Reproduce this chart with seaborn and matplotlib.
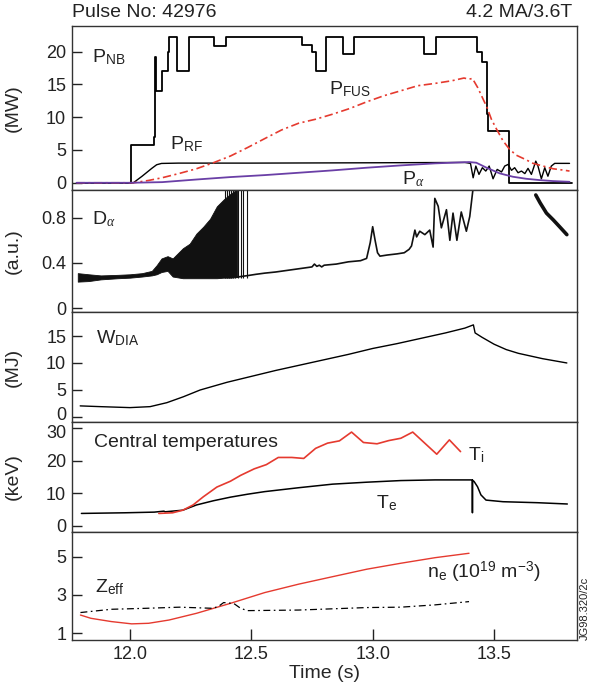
import matplotlib
matplotlib.use('Agg')
import matplotlib.pyplot as plt
import matplotlib.transforms as mtransforms
import seaborn as sns

#%% Heating powers (MW)
nb_t = [11.78, 12.003, 12.098, 12.104, 12.107, 12.131, 12.156, 12.16, 12.192, 12.243, 12.348,
        12.396, 12.709, 12.751, 12.765, 12.807, 12.878, 12.922, 13.212, 13.261, 13.43, 13.452,
        13.469, 13.476, 13.561, 13.82]
nb_mw = [0, 5.7, 7.0, 19.2, 14.0, 17.0, 20.0, 22.3, 17.0, 22.3, 20.8,
         22.3, 21.0, 20.0, 17.0, 22.3, 19.7, 22.3, 19.7, 22.3, 19.9, 18.4,
         10.5, 7.9, 0, 0]

rf_t = [11.78, 12.0, 12.014, 12.05, 12.09, 12.11, 12.13, 12.2, 12.5, 13.0, 13.38,
        13.403, 13.414, 13.425, 13.438, 13.452, 13.466, 13.48, 13.496, 13.513, 13.531,
        13.544, 13.558, 13.572, 13.585, 13.599, 13.613, 13.627, 13.64, 13.654, 13.672,
        13.681, 13.695, 13.709, 13.722, 13.736, 13.75, 13.811]
rf_mw = [0, 0, 0, 1.0, 2.2, 2.75, 2.95, 3.0, 3.0, 3.05, 3.1,
         2.96, 0.76, 2.55, 1.28, 2.3, 1.79, 2.55, 0.61, 2.04, 1.65,
         2.55, 2.8, 1.9, 2.3, 1.53, 1.79, 1.4, 2.2, 1.28, 3.3,
         2.55, 0.61, 2.3, 1.0, 2.55, 2.96, 2.96]

fus_t = [11.78, 12.014, 12.077, 12.133, 12.204, 12.274, 12.344, 12.414, 12.484, 12.555,
         12.625, 12.695, 12.765, 12.835, 12.906, 12.976, 13.046, 13.116, 13.186, 13.257,
         13.327, 13.376, 13.397, 13.411, 13.433, 13.455, 13.471, 13.489, 13.51, 13.537,
         13.564, 13.592, 13.627, 13.661, 13.702, 13.743, 13.784, 13.811]
fus_mw = [0, 0, 0.36, 0.77, 1.43, 2.14, 3.06, 4.08, 5.36, 6.73,
          8.06, 9.08, 9.69, 10.46, 11.33, 12.35, 13.27, 14.03, 14.8, 15.15,
          15.56, 15.97, 15.8, 15.9, 14.5, 12.75, 11.5, 9.7, 8.2, 6.4,
          5.1, 4.2, 3.6, 2.96, 2.55, 2.14, 1.94, 1.79]

alpha_t = [11.78, 12.0, 12.133, 12.274, 12.414, 12.555, 12.695, 12.835, 12.976, 13.116,
           13.257, 13.397, 13.427, 13.469, 13.524, 13.578, 13.633, 13.688, 13.743, 13.811]
alpha_mw = [0, 0, 0.1, 0.5, 0.87, 1.17, 1.53, 1.89, 2.3, 2.65,
            2.96, 3.16, 3.06, 2.3, 1.43, 0.92, 0.61, 0.41, 0.26, 0.15]

#%% D-alpha (a.u.)
da_band_t = [11.785, 11.83, 11.88, 11.95, 12.0, 12.05, 12.09, 12.11, 12.13, 12.155, 12.176,
             12.218, 12.246, 12.274, 12.302, 12.33, 12.358, 12.386, 12.414, 12.442]
da_band_lo = [0.235, 0.24, 0.255, 0.265, 0.27, 0.28, 0.29, 0.30, 0.32, 0.33, 0.28,
              0.265, 0.265, 0.265, 0.265, 0.265, 0.265, 0.27, 0.27, 0.275]
da_band_hi = [0.31, 0.30, 0.29, 0.295, 0.30, 0.31, 0.33, 0.38, 0.44, 0.46, 0.44,
              0.53, 0.57, 0.66, 0.72, 0.79, 0.90, 0.96, 1.01, 1.05]
da_spike_t = [12.392, 12.401, 12.409, 12.418, 12.426, 12.434, 12.445, 12.456, 12.466, 12.481]

da_t = [12.44, 12.49, 12.52, 12.555, 12.6, 12.65, 12.7, 12.75, 12.76, 12.77, 12.78, 12.79,
        12.8, 12.85, 12.9, 12.95, 12.975, 12.99, 13.0, 13.01, 13.02, 13.03, 13.06, 13.1,
        13.13, 13.15, 13.16, 13.174, 13.181, 13.194, 13.215, 13.235, 13.249, 13.256, 13.27,
        13.283, 13.304, 13.318, 13.331, 13.347, 13.365, 13.386, 13.4, 13.411, 13.416]
da_au = [0.275, 0.29, 0.30, 0.31, 0.32, 0.335, 0.35, 0.365, 0.39, 0.37, 0.38, 0.365,
         0.38, 0.39, 0.41, 0.42, 0.44, 0.58, 0.72, 0.6, 0.49, 0.46, 0.47, 0.48,
         0.49, 0.52, 0.55, 0.69, 0.63, 0.68, 0.65, 0.69, 0.54, 0.97, 0.90,
         0.71, 0.87, 0.60, 0.84, 0.60, 0.85, 0.68, 0.81, 1.01, 1.1]
da_late_t = [13.672, 13.69, 13.716, 13.744, 13.77, 13.80]
da_late_au = [1.0, 0.93, 0.84, 0.78, 0.72, 0.65]

#%% Diamagnetic energy (MJ)
w_t = [11.795, 11.878, 12.0, 12.083, 12.152, 12.22, 12.289, 12.4, 12.5, 12.6, 12.74, 12.8,
       12.9, 13.0, 13.1, 13.2, 13.24, 13.3, 13.38, 13.415, 13.422, 13.45, 13.5, 13.55,
       13.6, 13.7, 13.8]
w_mj = [2.0, 1.86, 1.68, 1.86, 2.6, 3.7, 4.96, 6.4, 7.5, 8.6, 10.0, 10.6,
        11.6, 12.7, 13.6, 14.6, 15.0, 15.6, 16.5, 17.1, 15.6, 14.8, 13.5, 12.5,
        11.8, 10.8, 10.0]

#%% Central temperatures (keV)
ti_t = [12.119, 12.176, 12.218, 12.26, 12.302, 12.358, 12.414, 12.456, 12.512, 12.562,
        12.611, 12.667, 12.716, 12.765, 12.814, 12.863, 12.913, 12.962, 13.018, 13.067,
        13.116, 13.165, 13.264, 13.316, 13.362]
ti_kev = [3.8, 4.0, 4.8, 6.4, 8.9, 11.9, 13.7, 15.5, 17.5, 18.8,
          21.0, 21.0, 20.7, 23.8, 25.4, 26.1, 28.8, 25.6, 25.2, 26.2,
          26.9, 28.8, 22.0, 26.4, 22.8]

te_t = [11.80, 11.979, 12.1, 12.14, 12.145, 12.218, 12.274, 12.344, 12.414, 12.484, 12.555,
        12.695, 12.835, 12.976, 13.116, 13.257, 13.41, 13.411, 13.412, 13.418, 13.432,
        13.446, 13.467, 13.537, 13.678, 13.802]
te_kev = [3.8, 4.0, 4.2, 4.5, 4.3, 4.8, 6.4, 7.7, 8.8, 9.7, 10.5,
          11.7, 12.8, 13.4, 13.9, 14.1, 14.1, 4.0, 14.0, 13.6, 12.0,
          9.5, 7.9, 7.4, 7.1, 6.7]

#%% Density and Zeff
ne_t = [11.796, 11.839, 11.923, 12.007, 12.077, 12.161, 12.274, 12.414, 12.555, 12.695,
        12.835, 12.976, 13.116, 13.257, 13.397]
ne_val = [1.95, 1.78, 1.61, 1.49, 1.52, 1.69, 2.04, 2.56, 3.12, 3.56,
          3.95, 4.34, 4.65, 4.94, 5.17]

zeff_t = [11.796, 11.923, 12.063, 12.204, 12.344, 12.37, 12.386, 12.428, 12.456, 12.484,
          12.695, 12.976, 13.116, 13.257, 13.397]
zeff_val = [2.08, 2.25, 2.3, 2.36, 2.3, 2.45, 2.6, 2.55, 2.3, 2.18,
            2.21, 2.34, 2.36, 2.48, 2.65]

RED = '#e53a2f'
PURPLE = '#6a3fa6'
FS = 14
TICK_FS = 13

sns.set_theme(style='ticks')
plt.rcParams['font.family'] = ['Liberation Sans', 'DejaVu Sans']
plt.rcParams['mathtext.fontset'] = 'custom'
plt.rcParams['mathtext.rm'] = 'Liberation Sans'
plt.rcParams['mathtext.it'] = 'Liberation Serif:italic'
plt.rcParams['mathtext.sf'] = 'Liberation Sans'
plt.rcParams['lines.scale_dashes'] = False
plt.rcParams['text.color'] = '#222222'


def trace(ax, t, v, **kw):
    sns.lineplot(x=t, y=v, ax=ax, sort=False, estimator=None, legend=False, **kw)
    return ax.lines[-1]


fig = plt.figure(figsize=(5.95, 6.9), dpi=100)
gs = fig.add_gridspec(5, 1, height_ratios=[164, 122, 110, 110, 108], hspace=0,
                      left=0.1205, right=0.969, top=0.9623, bottom=0.0725)
axes = [fig.add_subplot(gs[i]) for i in range(5)]

# panel 1: powers
ax = axes[0]
trace(ax, nb_t, nb_mw, color='black', linewidth=1.3, drawstyle='steps-post')
trace(ax, rf_t, rf_mw, color='black', linewidth=1.0)
fus = trace(ax, fus_t, fus_mw, color=RED, linewidth=1.2)
fus.set_dashes([6, 2.5, 1.5, 2.5])
trace(ax, alpha_t, alpha_mw, color=PURPLE, linewidth=1.3)
ax.set_ylim(-1.1, 23.9)
ax.set_yticks([0, 5, 10, 15, 20])
ax.set_ylabel('(MW)')
ax.text(11.845, 18.4, r'P$_{\rm NB}$', fontsize=FS)
ax.text(12.165, 5.1, r'P$_{\rm RF}$', fontsize=FS)
ax.text(12.822, 13.5, r'P$_{\rm FUS}$', fontsize=FS)
ax.text(13.121, -0.26, r'P$_\alpha$', fontsize=FS)

# panel 2: D-alpha
ax = axes[1]
ax.fill_between(da_band_t, da_band_lo, da_band_hi, color='#111111', linewidth=0.6)
ax.vlines(da_spike_t, 0.27, 1.1, color='#111111', linewidth=0.8)
trace(ax, da_t, da_au, color='#111111', linewidth=1.2)
trace(ax, da_late_t, da_late_au, color='#111111', linewidth=2.6)
ax.set_ylim(-0.033, 1.044)
ax.set_yticks([0, 0.4, 0.8])
ax.set_yticklabels(['0', '0.4', '0.8'])
ax.set_ylabel('(a.u.)')
ax.text(11.843, 0.744, r'D$_\alpha$', fontsize=FS)

# panel 3: W_DIA
ax = axes[2]
trace(ax, w_t, w_mj, color='black', linewidth=1.0)
ax.set_ylim(-1.0, 19.5)
ax.set_yticks([0, 5, 10, 15])
ax.set_ylabel('(MJ)')
ax.text(11.861, 13.6, r'W$_{\rm DIA}$', fontsize=FS)

# panel 4: temperatures
ax = axes[3]
trace(ax, te_t, te_kev, color='black', linewidth=1.1)
trace(ax, ti_t, ti_kev, color=RED, linewidth=1.2)
ax.set_ylim(-1.9, 31.9)
ax.set_yticks([0, 10, 20, 30])
ax.set_ylabel('(keV)')
ax.text(11.853, 24.1, 'Central temperatures', fontsize=FS)
ax.text(13.391, 20.2, r'T$_{\rm i}$', fontsize=FS)
ax.text(13.012, 5.35, r'T$_{\rm e}$', fontsize=FS)

# panel 5: ne and Zeff
ax = axes[4]
trace(ax, ne_t, ne_val, color=RED, linewidth=1.0)
z = trace(ax, zeff_t, zeff_val, color='black', linewidth=0.9)
z.set_dashes([5, 2.5, 1.2, 2.5])
ax.set_ylim(0.65, 6.28)
ax.set_yticks([1, 3, 5])
ax.text(11.854, 3.12, r'Z$_{\rm eff}$', fontsize=FS)
ax.text(13.223, 3.87, r'n$_{\rm e}$ (10$^{19}$ m$^{-3}$)', fontsize=FS)
ax.set_xlabel('Time (s)', fontsize=FS, labelpad=2)

for i, ax in enumerate(axes):
    ax.set_xlim(11.76, 13.84)
    for s in ax.spines.values():
        s.set_linewidth(1.0)
        s.set_color('#333333')
    ax.tick_params(axis='y', direction='in', length=7, width=1, pad=4,
                   labelsize=TICK_FS, colors='#222222')
    ax.yaxis.set_label_coords(-0.098, 0.5)
    ax.yaxis.label.set_size(FS)
    if i < 4:
        ax.tick_params(axis='x', bottom=False, labelbottom=False)
        ax.set_xlabel('')
    else:
        ax.set_xticks([12.0, 12.5, 13.0, 13.5])
        ax.set_xticklabels(['12.0', '12.5', '13.0', '13.5'])
        ax.tick_params(axis='x', direction='in', length=8, width=1, pad=4,
                       labelsize=TICK_FS, colors='#222222')

# nudge the crowded tick labels at the W / temperature boundary apart
up = mtransforms.ScaledTranslation(0, 2.5 / 72, fig.dpi_scale_trans)
down = mtransforms.ScaledTranslation(0, -2.5 / 72, fig.dpi_scale_trans)
lab0 = axes[2].get_yticklabels()[0]
lab0.set_transform(lab0.get_transform() + up)
lab30 = axes[3].get_yticklabels()[-1]
lab30.set_transform(lab30.get_transform() + down)

fig.text(0.121, 0.982, 'Pulse No: 42976', fontsize=FS, ha='left', va='center')
fig.text(0.962, 0.982, '4.2 MA/3.6T', fontsize=FS, ha='right', va='center')
fig.text(0.982, 0.118, 'JG98.320/2c', fontsize=8, rotation=90, ha='center', va='center')

fig.savefig('out.png', dpi=100)
